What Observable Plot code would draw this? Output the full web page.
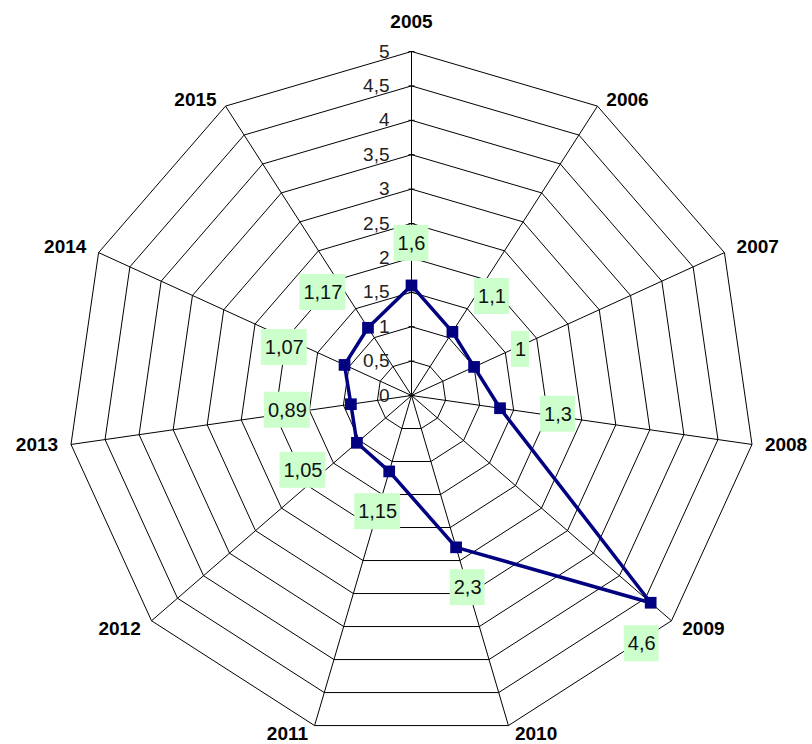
<!DOCTYPE html>
<html><head><meta charset="utf-8">
<script src="https://cdn.jsdelivr.net/npm/d3@7"></script>
<script src="https://cdn.jsdelivr.net/npm/@observablehq/plot@0.6"></script>
<style>html,body{margin:0;padding:0;background:#fff} svg{display:block}</style>
</head><body><div id="chart"></div>
<script>
const categories = ["2005","2006","2007","2008","2009","2010","2011","2012","2013","2014","2015"];
const values = [1.6, 1.1, 1, 1.3, 4.6, 2.3, 1.15, 1.05, 0.89, 1.07, 1.17];
const valueLabels = ["1,6","1,1","1","1,3","4,6","2,3","1,15","1,05","0,89","1,07","1,17"];
const ringValues = [0, 0.5, 1, 1.5, 2, 2.5, 3, 3.5, 4, 4.5, 5];
const ringLabels = ["0","0,5","1","1,5","2","2,5","3","3,5","4","4,5","5"];

const W = 812, H = 744, cx = 411, cy = 395, R = 344;
const FONT = "'Liberation Sans', Arial, sans-serif";
const rad = d3.scaleLinear().domain([0, 5]).range([0, R]);
const n = categories.length;
const ang = i => i * 2 * Math.PI / n;
const pos = (i, v) => ({x: rad(v) * Math.sin(ang(i)), y: -rad(v) * Math.cos(ang(i))});

const rings = ringValues.slice(1).flatMap(v => d3.range(n + 1).map(i => ({v, ...pos(i % n, v)})));
const spokes = categories.map((c, i) => pos(i, 5));
const series = d3.range(n + 1).map(i => pos(i % n, values[i % n]));
const points = categories.map((c, i) => pos(i, values[i]));

const ctx = document.createElement("canvas").getContext("2d");
const measure = (t, f) => { ctx.font = f; return ctx.measureText(t).width; };

const LABEL_FONT = 20;
const labels = values.map((v, i) => {
  const p = pos(i, v);
  const s = Math.sin(ang(i)), c = -Math.cos(ang(i));
  const w = measure(valueLabels[i], `${LABEL_FONT}px ${FONT}`) + 7;
  let x = p.x + s * 41 + (Math.abs(s) > 0.5 ? Math.sign(s) * w / 2 : 0);
  let y = p.y + c * 42;
  if (Math.hypot(x, y) > R) { x = p.x - 9; y = p.y + 41; }
  return {text: valueLabels[i], x, y, x1: x - w / 2, x2: x + w / 2, y1: y - 18, y2: y + 18};
});

const cats = categories.map((c, i) => {
  const v = pos(i, 5);
  const s = Math.sin(ang(i)), cs = Math.cos(ang(i));
  const mid = Math.abs(s) < 0.1;
  const anchor = mid ? "middle" : s > 0 ? "start" : "end";
  const x = v.x + (mid ? 0 : Math.sign(s) * (4 + 9 * Math.abs(s)));
  const y = v.y + (mid ? (cs > 0 ? -30 : 30) : cs > 0.3 ? -6 : cs < -0.3 ? 8 : 0);
  return {text: c, x, y, anchor};
});

const catText = a => Plot.text(cats.filter(d => d.anchor === a), {
  x: "x", y: "y", text: "text", textAnchor: a, fontSize: 19, fontWeight: "bold",
  fontFamily: FONT, fill: "#000"
});

const chart = Plot.plot({
  width: W, height: H, margin: 0,
  x: {domain: [-cx, W - cx], range: [0, W], axis: null},
  y: {domain: [-cy, H - cy], range: [0, H], axis: null},
  style: {fontFamily: FONT, background: "#fff"},
  marks: [
    Plot.line(rings, {x: "x", y: "y", z: "v", stroke: "#000", strokeWidth: 1}),
    Plot.link(spokes, {x1: 0, y1: 0, x2: "x", y2: "y", stroke: "#000", strokeWidth: 1}),
    Plot.link(ringValues, {x1: -3, x2: 3, y1: v => -rad(v), y2: v => -rad(v), stroke: "#000", strokeWidth: 1}),
    Plot.text(ringValues, {x: -22, y: v => -rad(v), text: (v, i) => ringLabels[i], textAnchor: "end",
      fontSize: 19, fill: "#222", fontFamily: FONT}),
    Plot.line(series, {x: "x", y: "y", stroke: "#000080", strokeWidth: 3.5, strokeLinejoin: "miter"}),
    Plot.dot(points, {x: "x", y: "y", symbol: "square", r: 6.6, fill: "#000080", stroke: "none"}),
    Plot.rect(labels, {x1: "x1", x2: "x2", y1: "y1", y2: "y2", fill: "#ccffcc"}),
    Plot.text(labels, {x: "x", y: "y", text: "text", fontSize: LABEL_FONT, fill: "#111", fontFamily: FONT}),
    catText("start"), catText("middle"), catText("end")
  ]
});
document.getElementById("chart").appendChild(chart);
</script>
</body></html>
